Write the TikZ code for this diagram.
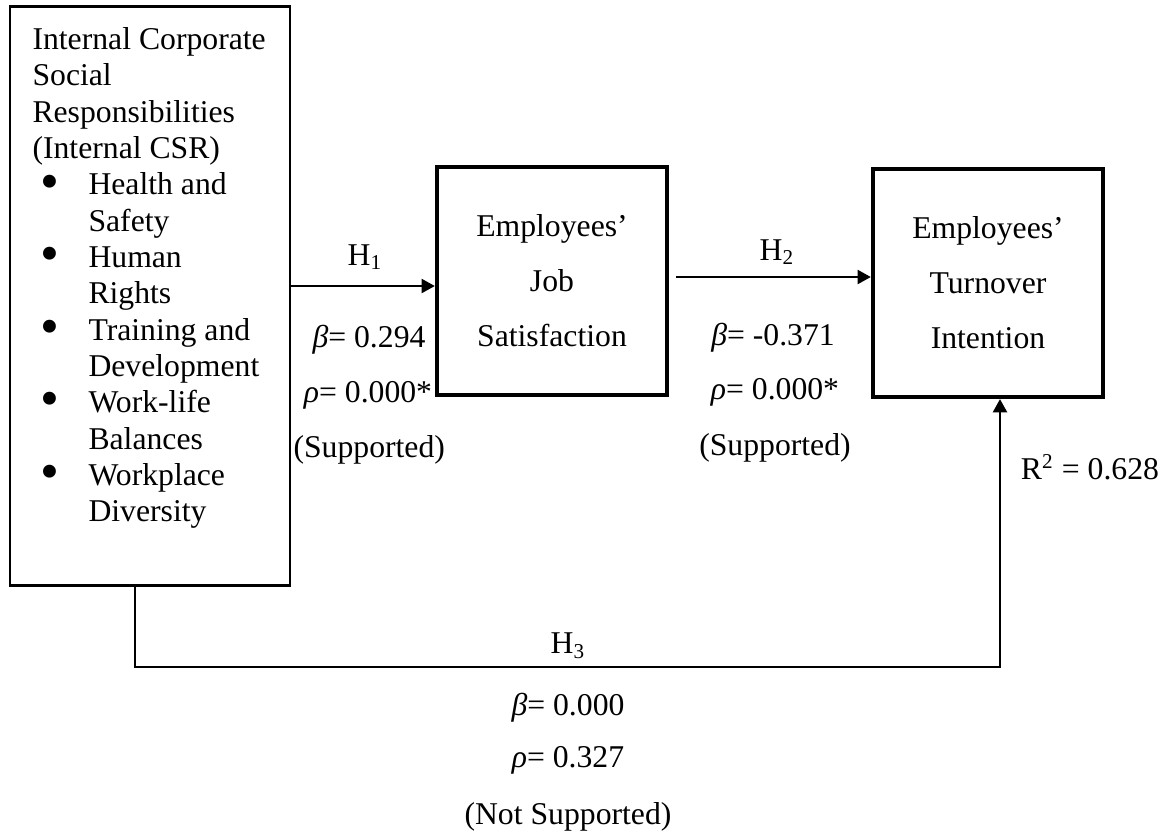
\documentclass[tikz,border=0pt]{standalone}
\usepackage{fontspec}
\usepackage{graphicx}
\setmainfont{Liberation Serif}
\usetikzlibrary{arrows.meta}
\newcommand{\bulitem}[1]{\hspace*{3.0pt}\makebox[18.2pt][l]{\smash{\raisebox{-1.6pt}{\scalebox{1.7}{\textbullet}}}}#1}
\newcommand{\bulcont}[1]{\hspace*{21.2pt}#1}

\begin{document}
\begin{tikzpicture}[x=0.0133cm, y=-0.0133cm,
    thinbox/.style={draw, line width=0.9pt, inner sep=0pt},
    varbox/.style={draw, line width=1.7pt, inner sep=0pt, align=center,
      minimum width=3.06cm, minimum height=3.03cm,
      font=\fontsize{12}{20.8}\selectfont},
    lbl/.style={inner sep=0pt, font=\fontsize{12}{14}\selectfont},
    arr/.style={line width=0.55pt, -{Triangle[length=5pt,width=5.4pt]}}]
  %%%%% START %%%%%
  \useasboundingbox (0,0) rectangle (1176,835);

  % boxes
  \node[thinbox, minimum width=3.724cm, minimum height=7.70cm] (csr) at (150,296) {};
  \node[anchor=north west, inner sep=0pt, align=left,
    font=\fontsize{12}{13.75}\selectfont] (csrtxt) at (32,27)
    {Internal Corporate\\ Social\\ Responsibilities\\ (Internal CSR)\\
     \bulitem{Health and}\\ \bulcont{Safety}\\
     \bulitem{Human}\\ \bulcont{Rights}\\
     \bulitem{Training and}\\ \bulcont{Development}\\
     \bulitem{Work-life}\\ \bulcont{Balances}\\
     \bulitem{Workplace}\\ \bulcont{Diversity}};

  \node[varbox] (jobs) at (552,281) {Employees’\\ Job\\ Satisfaction};
  \node[varbox] (turn) at (988,283) {Employees’\\ Turnover\\ Intention};

  % paths
  \draw[arr] (csr.east |- 0,286) -- (jobs.west |- 0,286);
  \draw[arr] ([xshift=0.09cm]jobs.east |- 0,277) -- (turn.west |- 0,277);
  \coordinate (h3a) at (135,667);
  \coordinate (h3b) at (1000,667);
  \draw[arr] (csr.south -| h3a) -- (h3a) -- (h3b) -- (turn.south -| h3b);

  % labels H1
  \node[lbl] (h1) at (365,257) {H\textsubscript{1}};
  \node[lbl] (b1) at (369,340) {\textit{β}= 0.294};
  \node[lbl] (p1) at (368,395) {\textit{ρ}= 0.000*};
  \node[lbl, anchor=west] (s1) at (293,450) {(Supported)};

  % labels H2
  \node[lbl] (h2) at (777,252) {H\textsubscript{2}};
  \node[lbl] (b2) at (773,338) {\textit{β}= -0.371};
  \node[lbl] (p2) at (775,392) {\textit{ρ}= 0.000*};
  \node[lbl] (s2) at (775,448) {(Supported)};

  \node[lbl] (r2) at (1090,467) {R\textsuperscript{2} = 0.628};

  % labels H3
  \node[lbl] (h3) at (568,646) {H\textsubscript{3}};
  \node[lbl] (b3) at (568,708) {\textit{β}= 0.000};
  \node[lbl] (p3) at (568,760) {\textit{ρ}= 0.327};
  \node[lbl] (s3) at (568,817) {(Not Supported)};
  %%%%% END %%%%%
\end{tikzpicture}
\end{document}
